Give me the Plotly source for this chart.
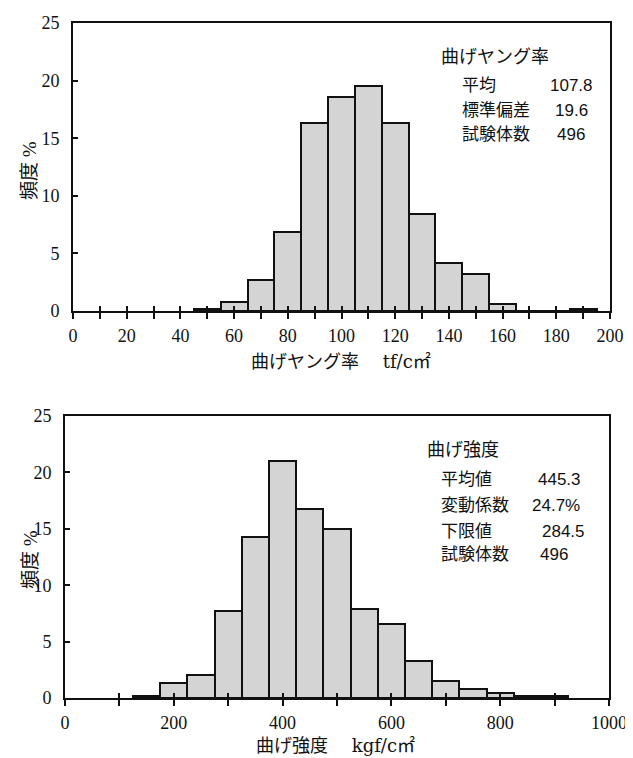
import plotly.graph_objects as go

W, H = 633, 758

# ---------------- data ----------------
# Top: 曲げヤング率 (tf/cm2), bin centres (width 10) and frequency %
young_bins = [50, 60, 70, 80, 90, 100, 110, 120, 130, 140, 150, 160, 170, 180, 190]
young_freq = [0.2, 0.75, 2.7, 6.9, 16.3, 18.6, 19.5, 16.3, 8.4, 4.2, 3.2, 0.6, 0.0, 0.0, 0.2]

# Bottom: 曲げ強度 (kgf/cm2), bin centres (width 50) and frequency %
strength_bins = [150, 200, 250, 300, 350, 400, 450, 500, 550, 600, 650, 700, 750, 800, 850, 900]
strength_freq = [0.2, 1.3, 2.0, 7.7, 14.3, 21.0, 16.8, 15.0, 7.9, 6.6, 3.3, 1.5, 0.8, 0.4, 0.2, 0.15]

young_stats_title = "曲げヤング率"
young_stats_labels = ["平均", "標準偏差", "試験体数"]
young_stats_values = ["107.8", "19.6", "496"]

strength_stats_title = "曲げ強度"
strength_stats_labels = ["平均値", "変動係数", "下限値", "試験体数"]
strength_stats_values = ["445.3", "24.7%", "284.5", "496"]

y_title = "頻度 %"
young_x_title = "曲げヤング率\u3000 tf/c㎡"
strength_x_title = "曲げ強度\u3000 kgf/c㎡"

# ---------------- style ----------------
BAR_FILL = "#d4d4d4"
TICK_FONT = dict(family="Liberation Serif, DejaVu Serif, serif", size=18, color="#111")
TITLE_FONT = dict(family="DejaVu Serif, Noto Sans CJK JP", size=18, color="#111")
YTITLE_FONT = dict(family="Liberation Serif, Noto Sans CJK JP", size=19, color="#111")
STAT_FONT = dict(family="Liberation Sans, Noto Sans CJK JP", size=17, color="#111")
STAT_TITLE_FONT = dict(family="Liberation Sans, Noto Sans CJK JP", size=18, color="#111")


def px_x(x):
    return x / W


def px_y(y):
    return 1 - y / H


fig = go.Figure()

fig.add_trace(go.Bar(
    x=young_bins, y=young_freq, width=10,
    marker=dict(color=BAR_FILL, line=dict(color="#111", width=2)),
    xaxis="x", yaxis="y", showlegend=False, hoverinfo="x+y",
))
fig.add_trace(go.Bar(
    x=strength_bins, y=strength_freq, width=50,
    marker=dict(color=BAR_FILL, line=dict(color="#111", width=2)),
    xaxis="x2", yaxis="y2", showlegend=False, hoverinfo="x+y",
))
# invisible companions so the overlaid tick-only axes get drawn
fig.add_trace(go.Scatter(x=young_bins, y=young_freq, xaxis="x3", yaxis="y",
                         mode="markers", marker=dict(opacity=0), showlegend=False,
                         hoverinfo="skip"))
fig.add_trace(go.Scatter(x=strength_bins, y=strength_freq, xaxis="x4", yaxis="y2",
                         mode="markers", marker=dict(opacity=0), showlegend=False,
                         hoverinfo="skip"))

common_x = dict(
    showline=True, linecolor="#111", linewidth=2, mirror=True,
    ticks="outside", ticklen=6, tickwidth=1.5, tickcolor="#111",
    showgrid=False, zeroline=False, tickfont=TICK_FONT,
    ticklabelstandoff=1,
)
common_y = dict(
    showline=True, linecolor="#111", linewidth=2, mirror=True,
    ticks="inside", ticklen=5, tickwidth=1.5, tickcolor="#111",
    showgrid=False, zeroline=False, tickfont=TICK_FONT,
    range=[0, 25], dtick=5, ticklabelstandoff=8,
)
overlay_x = dict(
    ticks="inside", ticklen=5, tickwidth=1.5, tickcolor="#111",
    showticklabels=False, showline=False, showgrid=False, zeroline=False,
)

top_dom_x = [px_x(65), px_x(602)]
top_dom_y = [px_y(303), px_y(15)]
bot_dom_x = [px_x(57), px_x(601)]
bot_dom_y = [px_y(690), px_y(408)]

fig.update_layout(
    width=W, height=H,
    margin=dict(l=0, r=0, t=0, b=0, autoexpand=False),
    paper_bgcolor="white", plot_bgcolor="white",
    bargap=0,
    xaxis=dict(common_x, domain=top_dom_x, anchor="y", range=[0, 200], dtick=20,
               minor=dict(dtick=10, ticks="outside", ticklen=6, tickwidth=1.5, tickcolor="#111")),
    yaxis=dict(common_y, domain=top_dom_y, anchor="x"),
    xaxis3=dict(overlay_x, overlaying="x", anchor="y", range=[0, 200], dtick=10),
    xaxis2=dict(common_x, domain=bot_dom_x, anchor="y2", range=[0, 1000], dtick=200,
                minor=dict(dtick=100, ticks="outside", ticklen=6, tickwidth=1.5, tickcolor="#111")),
    yaxis2=dict(common_y, domain=bot_dom_y, anchor="x2"),
    xaxis4=dict(overlay_x, overlaying="x2", anchor="y2", range=[0, 1000], dtick=100),
)

ann = []
# y titles
for cy in (163, 552):
    ann.append(dict(text=y_title, x=px_x(22), y=px_y(cy), xref="paper", yref="paper",
                    textangle=-90, showarrow=False, font=YTITLE_FONT,
                    xanchor="center", yanchor="middle"))
# x titles
ann.append(dict(text=young_x_title, x=px_x(333), y=px_y(353), xref="paper", yref="paper",
                showarrow=False, font=TITLE_FONT, xanchor="center", yanchor="middle"))
ann.append(dict(text=strength_x_title, x=px_x(328), y=px_y(737), xref="paper", yref="paper",
                showarrow=False, font=TITLE_FONT, xanchor="center", yanchor="middle"))

# top stats box
ann.append(dict(text=young_stats_title, x=px_x(431), y=px_y(49), xref="paper", yref="paper",
                showarrow=False, font=STAT_TITLE_FONT, xanchor="left", yanchor="middle"))
young_rows_y = [77, 103, 127]
young_vals_x = [540, 545, 547]
for lab, val, ry, vx in zip(young_stats_labels, young_stats_values, young_rows_y, young_vals_x):
    ann.append(dict(text=lab, x=px_x(452), y=px_y(ry), xref="paper", yref="paper",
                    showarrow=False, font=STAT_FONT, xanchor="left", yanchor="middle"))
    ann.append(dict(text=val, x=px_x(vx), y=px_y(ry), xref="paper", yref="paper",
                    showarrow=False, font=STAT_FONT, xanchor="left", yanchor="middle"))

# bottom stats box
ann.append(dict(text=strength_stats_title, x=px_x(417), y=px_y(442), xref="paper", yref="paper",
                showarrow=False, font=STAT_TITLE_FONT, xanchor="left", yanchor="middle"))
strength_rows_y = [471, 497, 523, 546]
strength_vals_x = [528, 522, 532, 530]
for lab, val, ry, vx in zip(strength_stats_labels, strength_stats_values, strength_rows_y, strength_vals_x):
    ann.append(dict(text=lab, x=px_x(431), y=px_y(ry), xref="paper", yref="paper",
                    showarrow=False, font=STAT_FONT, xanchor="left", yanchor="middle"))
    ann.append(dict(text=val, x=px_x(vx), y=px_y(ry), xref="paper", yref="paper",
                    showarrow=False, font=STAT_FONT, xanchor="left", yanchor="middle"))

fig.update_layout(annotations=ann)

fig.write_html("out.html")
